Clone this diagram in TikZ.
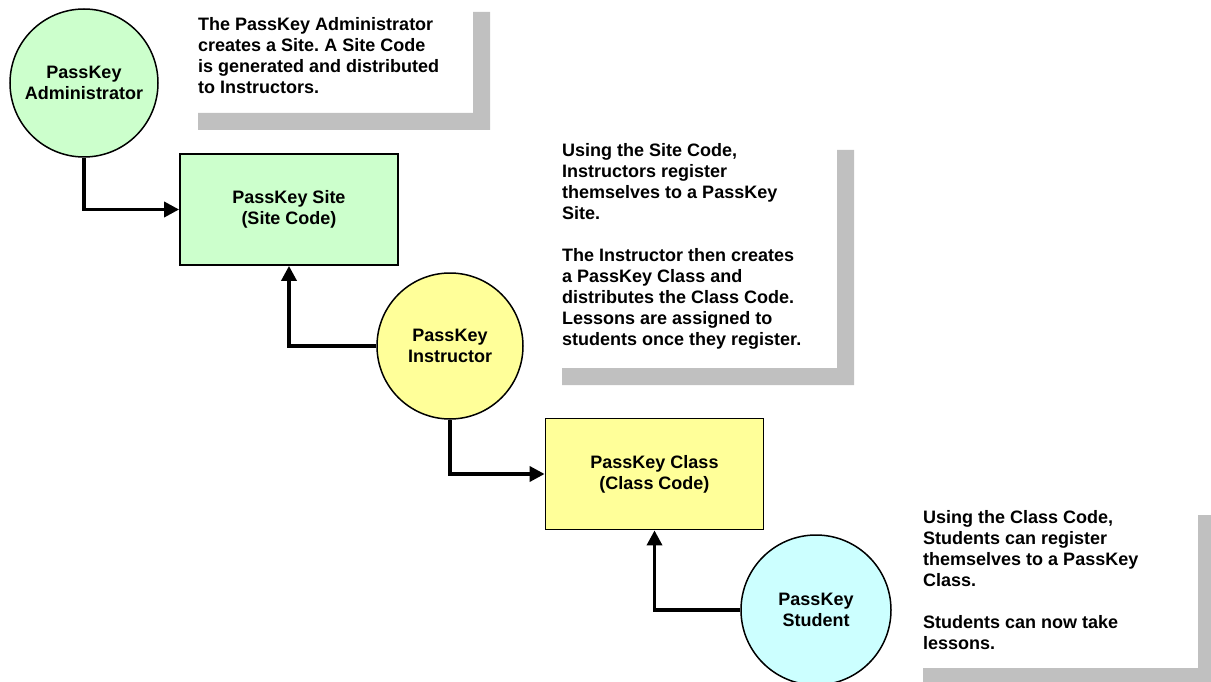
\documentclass[tikz,border=0pt]{standalone}
\usepackage{fontspec}
\setmainfont{Liberation Sans}
\usetikzlibrary{arrows.meta}
\definecolor{mintfill}{HTML}{CCFFCC}
\definecolor{lemonfill}{HTML}{FFFF99}
\definecolor{skyfill}{HTML}{CCFFFF}
\definecolor{shadegray}{HTML}{C0C0C0}
\frenchspacing
\begin{document}
\begin{tikzpicture}[x=1pt,y=-1pt,
  every node/.style={font=\fontsize{18}{21}\selectfont\bfseries},
  role/.style={circle,draw,line width=1.5pt,minimum size=#1,inner sep=0pt,align=center},
  store/.style={rectangle,draw,line width=1.8pt,minimum width=218pt,minimum height=111pt,align=center},
  note/.style={anchor=base west,align=left,inner sep=0pt},
  link/.style={line width=3.5pt,-{Triangle[length=15pt,width=15pt]}}]
  \useasboundingbox (0,0) rectangle (1211,682);
  \foreach \l/\t/\r/\b in {198/12/490/130,562/150/854/385,923/515/1215/685}
    \fill[shadegray] (\l,\b-17) -- (\r-17,\b-17) -- (\r-17,\t) -- (\r,\t) -- (\r,\b) -- (\l,\b) -- cycle;
  \node[note] (adminnote) at (198,94) {The PassKey Administrator\\creates a Site. A Site Code\\is generated and distributed\\to Instructors.};
  \node[note] (instrnote) at (562,345) {Using the Site Code,\\Instructors register\\themselves to a PassKey\\Site.\\[21pt]The Instructor then creates\\a PassKey Class and\\distributes the Class Code.\\Lessons are assigned to\\students once they register.};
  \node[note] (studnote) at (923,649) {Using the Class Code,\\Students can register\\themselves to a PassKey\\Class.\\[21pt]Students can now take\\lessons.};
  \node[role=148pt,fill=mintfill] (admin) at (84,83) {PassKey\\Administrator};
  \node[store,fill=mintfill] (site) at (289,209.5) {PassKey Site\\(Site Code)};
  \node[role=146pt,fill=lemonfill] (instructor) at (450,346) {PassKey\\Instructor};
  \node[store,fill=lemonfill] (class) at (654.5,474) {PassKey Class\\(Class Code)};
  \node[role=150pt,fill=skyfill] (student) at (816,610) {PassKey\\Student};
  \draw[link] (admin.south) |- (site.west);
  \draw[link] (instructor.west) -| (site.south);
  \draw[link] (instructor.south) |- (class.west);
  \draw[link] (student.west) -| (class.south);
\end{tikzpicture}
\end{document}
